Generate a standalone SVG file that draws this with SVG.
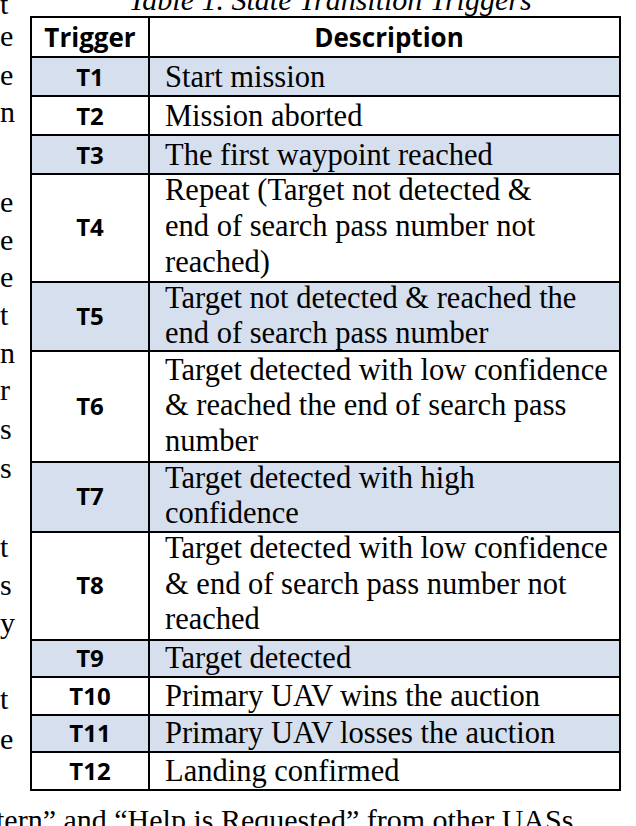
<svg xmlns="http://www.w3.org/2000/svg" width="636" height="826" viewBox="0 0 636 826">
<style>
.d{font-family:"Liberation Serif",serif;font-size:30.5px;fill:#000}
.t{font-family:"Open Sans","Liberation Sans",sans-serif;font-weight:bold;font-size:24px;fill:#000;text-anchor:middle}
.h{font-family:"Open Sans","Liberation Sans",sans-serif;font-weight:bold;font-size:26px;fill:#000;text-anchor:middle}
.s{fill:#d5dfee}
.m{font-family:"Liberation Serif",serif;font-size:30px;fill:#000}
</style>
<rect width="636" height="826" fill="#fff"/>
<text class="m" x="330" y="10" font-style="italic" text-anchor="middle">Table 1. State Transition Triggers</text>
<g class="m">
<text x="0" y="14">t</text><text x="0" y="46">e</text><text x="0" y="85">e</text><text x="0" y="122">n</text>
<text x="0" y="212">e</text><text x="0" y="250">e</text><text x="0" y="287">e</text><text x="0" y="325">t</text>
<text x="0" y="363">n</text><text x="0" y="400">r</text><text x="0" y="439">s</text><text x="0" y="478">s</text>
<text x="0" y="557">t</text><text x="0" y="595">s</text><text x="0" y="633">y</text><text x="0" y="709">t</text><text x="0" y="749">e</text>
</g>
<g id="shading">
<rect class="s" x="31" y="57" width="589" height="39"/>
<rect class="s" x="31" y="135" width="589" height="39"/>
<rect class="s" x="31" y="282" width="589" height="69"/>
<rect class="s" x="31" y="462" width="589" height="70"/>
<rect class="s" x="31" y="640" width="589" height="37"/>
<rect class="s" x="31" y="715" width="589" height="37"/>
</g>
<g id="grid" stroke="#000" stroke-width="2" fill="none">
<rect x="31" y="17" width="589" height="773"/>
<line x1="149" y1="17" x2="149" y2="790"/>
<path d="M31 57H620M31 96H620M31 135H620M31 174H620M31 282H620M31 351H620M31 462H620M31 532H620M31 640H620M31 677H620M31 715H620M31 752H620"/>
</g>
<g id="header"><text class="h" x="90" y="47">Trigger</text><text class="h" x="389" y="47">Description</text></g>
<g id="T1"><text class="t" x="90" y="86">T1</text><text class="d" x="165" y="87">Start mission</text></g>
<g id="T2"><text class="t" x="90" y="125">T2</text><text class="d" x="165" y="126">Mission aborted</text></g>
<g id="T3"><text class="t" x="90" y="164">T3</text><text class="d" x="165" y="165">The first waypoint reached</text></g>
<g id="T4"><text class="t" x="90" y="236">T4</text><text class="d" x="165" y="200">Repeat (Target not detected &amp;</text><text class="d" x="165" y="236">end of search pass number not</text><text class="d" x="165" y="272">reached)</text></g>
<g id="T5"><text class="t" x="90" y="325">T5</text><text class="d" x="165" y="308">Target not detected &amp; reached the</text><text class="d" x="165" y="343">end of search pass number</text></g>
<g id="T6"><text class="t" x="90" y="415">T6</text><text class="d" x="165" y="380">Target detected with low confidence</text><text class="d" x="165" y="415">&amp; reached the end of search pass</text><text class="d" x="165" y="451">number</text></g>
<g id="T7"><text class="t" x="90" y="505">T7</text><text class="d" x="165" y="488">Target detected with high</text><text class="d" x="165" y="523">confidence</text></g>
<g id="T8"><text class="t" x="90" y="594">T8</text><text class="d" x="165" y="558">Target detected with low confidence</text><text class="d" x="165" y="594">&amp; end of search pass number not</text><text class="d" x="165" y="629">reached</text></g>
<g id="T9"><text class="t" x="90" y="667">T9</text><text class="d" x="165" y="668">Target detected</text></g>
<g id="T10"><text class="t" x="90" y="705">T10</text><text class="d" x="165" y="706">Primary UAV wins the auction</text></g>
<g id="T11"><text class="t" x="90" y="742">T11</text><text class="d" x="165" y="743">Primary UAV losses the auction</text></g>
<g id="T12"><text class="t" x="90" y="780">T12</text><text class="d" x="165" y="781">Landing confirmed</text></g>
<text class="m" x="-4" y="830">tern” and “Help is Requested” from other UASs</text>
</svg>
